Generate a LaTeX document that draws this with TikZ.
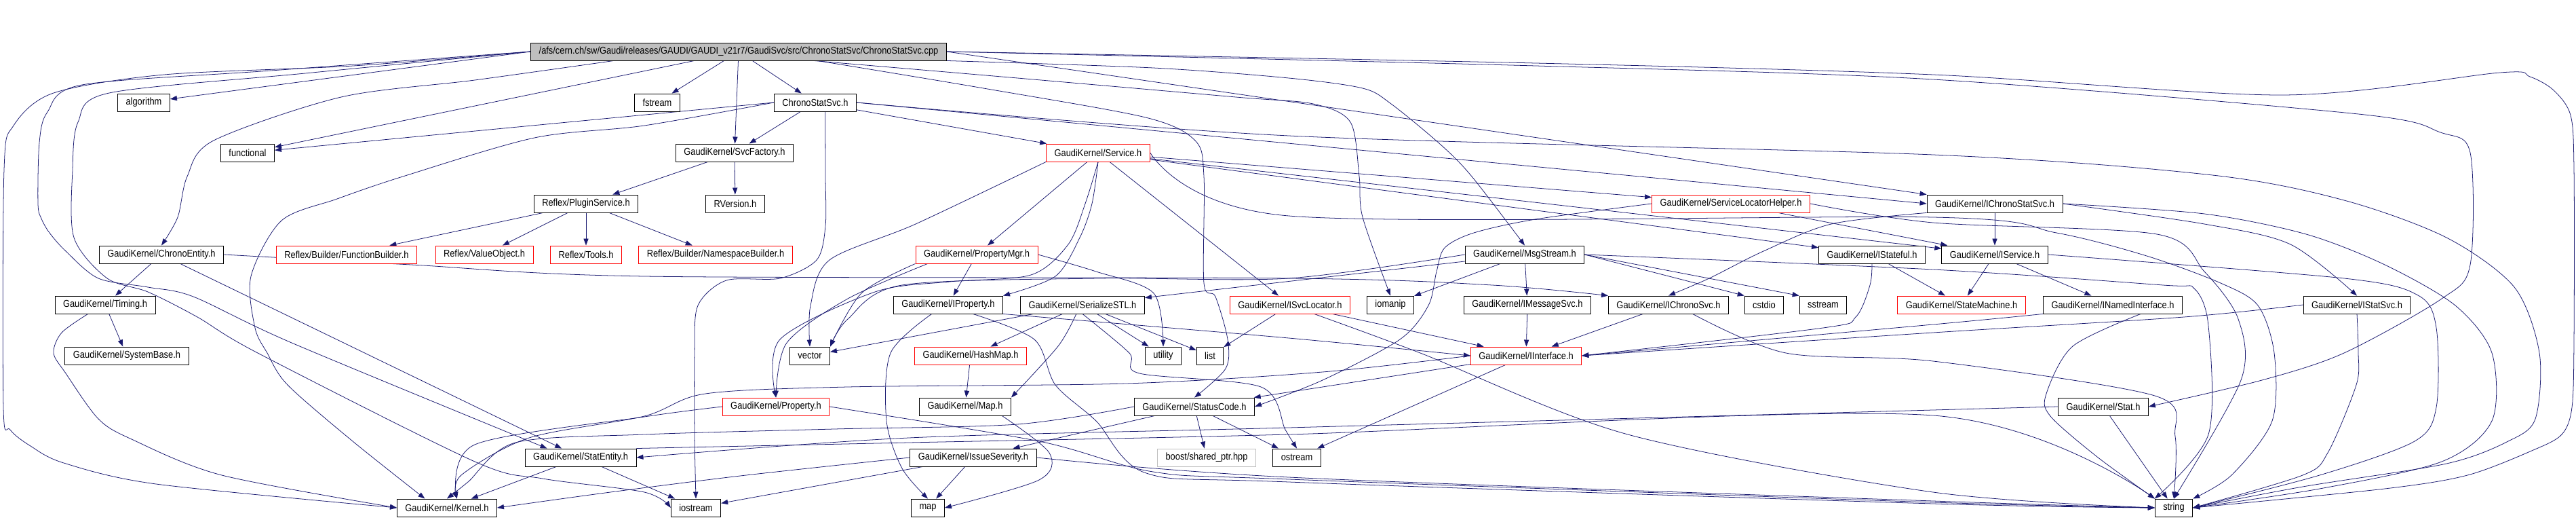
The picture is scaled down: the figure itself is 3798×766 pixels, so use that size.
\documentclass[tikz,border=0pt]{standalone}
\usepackage{fontspec}
\newfontfamily\dotfont{Liberation Sans}[FakeStretch=0.88]
\usetikzlibrary{arrows.meta, positioning, backgrounds, calc}
\definecolor{edgeblue}{HTML}{191970}
\definecolor{rootgray}{HTML}{BFBFBF}

\begin{document}
\begin{tikzpicture}[
    x=0.025cm, y=-0.025cm,
    hdr/.style={rectangle, draw=black, fill=white, line width=0.65pt, minimum height=0.65cm, inner xsep=0.3cm, inner ysep=0pt, font=\dotfont\fontsize{10.4}{12}\selectfont},
    undoc/.style={hdr, draw=red},
    root/.style={hdr, fill=rootgray},
    ext/.style={hdr, draw=rootgray},
    dep/.style={draw=edgeblue, line width=0.55pt, -{Triangle[length=0.25cm, width=0.18cm]}},
    route/.style={dep, smooth, tension=0.5}
]
\useasboundingbox (0,0) rectangle (3798,766);

% Headers
\node[root] (cpp) at (1089,76) {/afs/cern.ch/sw/Gaudi/releases/GAUDI/GAUDI\_v21r7/GaudiSvc/src/ChronoStatSvc/ChronoStatSvc.cpp};
\node[hdr] (algo) at (212,151) {algorithm};
\node[hdr] (fstr) at (969,151) {fstream};
\node[hdr] (csh) at (1202,151) {ChronoStatSvc.h};
\node[hdr] (func) at (365,225) {functional};
\node[hdr] (svcf) at (1083,225) {GaudiKernel/SvcFactory.h};
\node[undoc] (serv) at (1619,225) {GaudiKernel/Service.h};
\node[hdr] (plug) at (864,300) {Reflex/PluginService.h};
\node[hdr] (rver) at (1084,300) {RVersion.h};
\node[undoc] (slh) at (2552,300) {GaudiKernel/ServiceLocatorHelper.h};
\node[hdr] (icss) at (2941,300) {GaudiKernel/IChronoStatSvc.h};
\node[hdr] (cent) at (238,375) {GaudiKernel/ChronoEntity.h};
\node[undoc] (fbld) at (511,375) {Reflex/Builder/FunctionBuilder.h};
\node[undoc] (vobj) at (714,375) {Reflex/ValueObject.h};
\node[undoc] (tools) at (864,375) {Reflex/Tools.h};
\node[undoc] (nsb) at (1055,375) {Reflex/Builder/NamespaceBuilder.h};
\node[undoc] (pmgr) at (1440,375) {GaudiKernel/PropertyMgr.h};
\node[hdr] (msgs) at (2248,375) {GaudiKernel/MsgStream.h};
\node[hdr] (istf) at (2760,375) {GaudiKernel/IStateful.h};
\node[hdr] (isvc) at (2941,375) {GaudiKernel/IService.h};
\node[hdr] (timg) at (155,449) {GaudiKernel/Timing.h};
\node[hdr] (iprp) at (1398,449) {GaudiKernel/IProperty.h};
\node[hdr] (sstl) at (1596,449) {GaudiKernel/SerializeSTL.h};
\node[undoc] (islc) at (1902,449) {GaudiKernel/ISvcLocator.h};
\node[hdr] (iomp) at (2050,449) {iomanip};
\node[hdr] (imsg) at (2252,449) {GaudiKernel/IMessageSvc.h};
\node[hdr] (ichr) at (2460,449) {GaudiKernel/IChronoSvc.h};
\node[hdr] (cstd) at (2601,449) {cstdio};
\node[hdr] (sstr) at (2688,449) {sstream};
\node[undoc] (smach) at (2892,449) {GaudiKernel/StateMachine.h};
\node[hdr] (inam) at (3115,449) {GaudiKernel/INamedInterface.h};
\node[hdr] (istat) at (3475,449) {GaudiKernel/IStatSvc.h};
\node[hdr] (sysb) at (187,524) {GaudiKernel/SystemBase.h};
\node[hdr] (vec) at (1194,524) {vector};
\node[undoc] (hmap) at (1431,524) {GaudiKernel/HashMap.h};
\node[hdr] (util) at (1715,524) {utility};
\node[hdr] (lst) at (1784,524) {list};
\node[undoc] (iint) at (2250,524) {GaudiKernel/IInterface.h};
\node[undoc] (prop) at (1144,599) {GaudiKernel/Property.h};
\node[hdr] (mapg) at (1423,599) {GaudiKernel/Map.h};
\node[hdr] (stc) at (1761,599) {GaudiKernel/StatusCode.h};
\node[hdr] (stat) at (3101,599) {GaudiKernel/Stat.h};
\node[hdr] (sent) at (856,674) {GaudiKernel/StatEntity.h};
\node[hdr] (isev) at (1435,674) {GaudiKernel/IssueSeverity.h};
\node[ext] (boost) at (1779,674) {boost/shared\_ptr.hpp};
\node[hdr] (ostr) at (1912,674) {ostream};
\node[hdr] (kern) at (659,748) {GaudiKernel/Kernel.h};
\node[hdr] (iostr) at (1026,748) {iostream};
\node[hdr] (mapstd) at (1368,748) {map};
\node[hdr] (str) at (3205,748) {string};

\begin{scope}[on background layer]
% Source file
\draw[dep] (cpp.west) -- (algo);
\draw[dep] (cpp) -- (fstr);
\draw[dep] (cpp) -- (csh);
\draw[dep] (cpp) -- (func);
\draw[dep] (cpp) -- (svcf);
\draw[route] plot coordinates {($(cpp.south west)!.2!(cpp.south east)$) (700,118) (503,143) (315,207) (276,260) (262,320) (cent.north)};
\draw[route] plot coordinates {(cpp.west) (521,97) (242,110) (79,137) (20,185) (6,250) (5,600) (15,633) (45,657) (94,682) (230,713) (kern.west)};
\draw[route] plot coordinates {(cpp.west) (400,104) (121,125) (70,165) (58,210) (56,300) (61,322) (73,343) (97,370) (145,410) (218,423) (285,437) (430,505) ($(sent.north west)!.2!(sent.north east)$)};
\draw[route] plot coordinates {(cpp.west) (450,108) (161,137) (115,180) (107,250) (109,350) (158,410) (218,430) (291,467) (380,520) (700,680) (800,705) (950,725) (iostr.west)};
\draw[route] plot coordinates {($(cpp.south west)!.68!(cpp.south east)$) (1500,115) (1822,143) (1936,153) (1991,180) (2004,260) (2009,320) (iomp.north)};
\draw[route] plot coordinates {($(cpp.south west)!.69!(cpp.south east)$) (1450,130) (1689,173) (1762,207) (1775,260) (1775,417) (1792,437) (1810,500) (1807,543) (stc.north)};
\draw[route] plot coordinates {(cpp.south east) (1700,100) (1900,115) (2009,130) (2051,153) (2124,213) (2170,260) (msgs.north)};
\draw[dep] (cpp.east) -- (icss.north west);
\draw[route] plot coordinates {(cpp.east) (2264,93) (2850,110) (3365,140) (3686,107) (3730,113) (3765,133) (3790,170) (3795,250) (3795,500) (3792,600) (3777,640) (3735,663) (3638,700) (3516,720) (str.east)};
\draw[route] plot coordinates {(cpp.east) (2264,97) (2850,117) (3477,168) (3598,195) (3642,225) (3642,390) (3600,440) (3456,520) (3335,560) (stat.east)};

% ChronoStatSvc.h
\draw[dep] (csh.west) -- (func);
\draw[dep] (csh) -- (svcf);
\draw[dep] (csh) -- (serv);
\draw[dep] (csh.east) -- (icss.west);
\draw[route] plot coordinates {(csh.west) (950,185) (788,203) (594,260) (497,293) (415,325) (370,407) (376,483) (394,520) (424,567) (520,650) ($(kern.north west)!.28!(kern.north east)$)};
\draw[route] plot coordinates {($(csh.south west)!.62!(csh.south east)$) (1217,260) (1217,333) (1204,383) (1150,410) (1071,413) (1029,450) (1024,520) (1024,640) (iostr.north)};
\draw[route] plot coordinates {(csh.east) (1900,200) (2850,228) (3262,258) (3456,295) (3607,350) (3707,423) (3744,520) (3738,617) (3698,650) (3607,683) (3395,717) (str.east)};

% SvcFactory.h and PluginService.h
\draw[dep] (svcf) -- (plug);
\draw[dep] (svcf) -- (rver);
\draw[dep] (plug) -- (fbld);
\draw[dep] (plug) -- (vobj);
\draw[dep] (plug) -- (tools);
\draw[dep] (plug) -- (nsb);

% Service.h
\draw[dep] (serv) -- (pmgr);
\draw[route] plot coordinates {(serv.south) (1610,300) (1592,350) (1556,407) (iprp.north east)};
\draw[route] plot coordinates {(serv.south) (1600,300) (1575,360) (1520,405) (1400,415) (1290,430) (1150,500) (prop.north)};
\draw[route] plot coordinates {(serv.south west) (1350,330) (1223,383) (1195,450) (vec.north)};
\draw[dep] (serv) -- (slh);
\draw[dep] (serv) -- (istf);
\draw[dep] (serv) -- (isvc);
\draw[dep] (serv) -- (islc);
\draw[route] plot coordinates {(serv.east) (1900,318) (2850,320) (3032,343) (3165,377) (3274,417) (3329,450) (3353,520) (3350,620) (3290,700) (str.north east)};

% ServiceLocatorHelper.h and IChronoStatSvc.h
\draw[dep] (slh) -- (isvc);
\draw[route] plot coordinates {(slh.west) (2264,323) (2173,343) (2130,365) (2118,400) (2106,450) (2064,500) (1950,560) (stc.east)};
\draw[route] plot coordinates {(slh.east) (2850,328) (3180,345) (3250,400) (3300,470) (3304,560) (str.north)};
\draw[dep] (icss) -- (isvc);
\draw[route] plot coordinates {(icss.south west) (2700,330) (2600,370) (2520,410) (ichr.north)};
\draw[route] plot coordinates {(icss.east) (3250,330) (3377,360) (istat.north)};
\draw[route] plot coordinates {(icss.east) (3250,315) (3400,345) (3516,390) (3620,450) (3674,520) (3674,620) (3600,680) (3420,720) (str.east)};

% ChronoEntity.h and Timing.h
\draw[dep] (cent) -- (timg);
\draw[dep] (cent) -- (sent);
\draw[route] plot coordinates {(cent.east) (606,390) (950,407) (1900,410) (2200,420) (ichr.north west)};
\draw[dep] (timg) -- (sysb);
\draw[route] plot coordinates {($(timg.south west)!.33!(timg.south east)$) (91,490) (79,520) (97,550) (145,617) (194,647) (327,700) (kern.west)};

% PropertyMgr.h and IProperty.h
\draw[dep] (pmgr) -- (iprp);
\draw[route] plot coordinates {(pmgr.south west) (1270,432) (vec.north east)};
\draw[route] plot coordinates {($(pmgr.south west)!.1!(pmgr.south east)$) (1250,440) (1160,505) (prop.north)};
\draw[route] plot coordinates {(pmgr.east) (1616,400) (1701,432) (util.north)};
\draw[route] plot coordinates {(iprp.south east) (1900,498) (iint.west)};
\draw[route] plot coordinates {($(iprp.south)!.45!(iprp.south east)$) (1525,500) (1556,567) (1616,620) (1690,697) (1900,710) (2850,742) (str.west)};
\draw[route] plot coordinates {($(iprp.south west)!.35!(iprp.south east)$) (1313,520) (1307,620) (1330,690) (mapstd.north)};

% SerializeSTL.h and maps
\draw[dep] (sstl) -- (vec);
\draw[dep] (sstl) -- (hmap);
\draw[route] plot coordinates {($(sstl.south)!.1!(sstl.south west)$) (1560,510) (mapg.north east)};
\draw[dep] (sstl) -- (util);
\draw[dep] (sstl) -- (lst);
\draw[route] plot coordinates {(sstl.south) (1665,520) (1680,550) (1859,570) (1895,633) (ostr.north)};
\draw[dep] (hmap) -- (mapg);
\draw[route] plot coordinates {($(mapg.south east)!.1!(mapg.south west)$) (1547,667) (1532,707) (mapstd.east)};

% MsgStream.h
\draw[dep] (msgs) -- (imsg);
\draw[dep] (msgs) -- (iomp);
\draw[dep] (msgs.east) -- (cstd.north west);
\draw[dep] (msgs.east) -- (sstr.north west);
\draw[dep] (msgs) -- (sstl);
\draw[route] plot coordinates {(msgs.west) (1900,410) (1620,410) (1330,420) (1250,470) (vec.north east)};
\draw[route] plot coordinates {(msgs.east) (2850,397) (3189,420) (3235,425) (3256,480) (3256,640) (str.north west)};

% IStateful.h and IService.h
\draw[dep] (istf) -- (smach);
\draw[route] plot coordinates {(istf.south) (2757,420) (2736,467) (2688,483) (iint.east)};
\draw[dep] (isvc) -- (smach);
\draw[dep] (isvc) -- (inam);
\draw[route] plot coordinates {(isvc.east) (3456,410) (3565,435) (3592,483) (3592,600) (3560,650) (3420,700) (str.east)};

% Interfaces
\draw[dep] (islc) -- (lst);
\draw[dep] (islc) -- (iint);
\draw[route] plot coordinates {($(islc.south)!.4!(islc.south east)$) (2094,520) (2400,640) (2850,725) (str.west)};
\draw[dep] (imsg) -- (iint);
\draw[dep] (ichr) -- (iint);
\draw[route] plot coordinates {($(ichr.south east)!.3!(ichr.south west)$) (2633,520) (2850,532) (3177,583) (3207,643) (str.north)};
\draw[route] plot coordinates {(inam.south west) (2850,478) (iint.east)};
\draw[route] plot coordinates {($(inam.south)!.4!(inam.south east)$) (3056,510) (3017,580) (3023,613) (3092,673) (str.north west)};
\draw[route] plot coordinates {(istat.west) (3220,467) (2850,490) (iint.east)};
\draw[route] plot coordinates {(istat.south) (3477,520) (3474,567) (3432,667) (3395,700) (str.east)};

% IInterface.h and StatusCode.h
\draw[dep] (iint) -- (stc);
\draw[dep] (iint) -- (ostr);
\draw[route] plot coordinates {(iint.west) (1950,548) (1660,565) (1250,570) (1040,580) (950,613) (780,645) (680,700) ($(kern.north)!.2!(kern.north east)$)};
\draw[dep] (stc) -- (isev);
\draw[dep] (stc) -- (boost);
\draw[dep] (stc) -- (ostr);
\draw[route] plot coordinates {(stc.west) (1500,625) (1230,632) (950,640) (760,652) (690,710) (kern.north)};

% IssueSeverity.h and Property.h
\draw[dep] (isev) -- (mapstd);
\draw[dep] (isev) -- (iostr);
\draw[route] plot coordinates {(isev.east) (1900,703) (2850,738) (str.west)};
\draw[route] plot coordinates {(isev.west) (1100,700) (900,725) (kern.east)};
\draw[route] plot coordinates {(prop.west) (950,614) (700,655) ($(kern.north west)!.6!(kern.north east)$)};
\draw[route] plot coordinates {(prop.east) (1532,650) (1700,695) (1900,706) (2850,740) (str.west)};

% StatEntity.h and Stat.h
\draw[dep] (sent) -- (kern);
\draw[dep] (sent) -- (iostr);
\draw[route] plot coordinates {(sent.north east) (1340,652) (1900,640) (2850,612) (str.north west)};
\draw[route] plot coordinates {(stat.west) (2850,604) (1900,630) (1340,645) (sent.east)};
\draw[dep] (stat) -- (str);
\end{scope}

\end{tikzpicture}
\end{document}
